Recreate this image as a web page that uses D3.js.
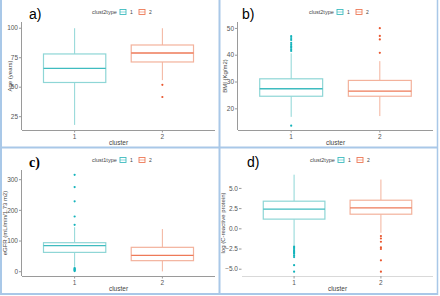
<!DOCTYPE html>
<html>
<head>
<meta charset="utf-8">
<script src="https://cdn.jsdelivr.net/npm/d3@7"></script>
<style>
  body { margin: 0; background: #fff; }
  text { font-family: "Liberation Sans", Arial, sans-serif; }
</style>
</head>
<body>
<div id="chart"></div>
<script>
// values: [lower whisker, q1, median, q3, upper whisker]
const clusters = ["1", "2"];

const ageStats = [[18, 54, 66, 78.2, 100], [56, 71.4, 79, 85.8, 100]];
const ageOutliers = [[], [52, 41.7]];
const ageTicks = [25, 50, 75, 100];

const bmiStats = [[17, 24.7, 27.5, 31.2, 40.7], [17.3, 24.7, 26.6, 30.6, 37.8]];
const bmiOutliers = [[41.6, 42.2, 42.8, 43.3, 43.9, 44.6, 45.7, 46.4, 47.1, 13.7], [50.1, 47.2, 45.9, 40.9]];
const bmiTicks = [20, 30, 40, 50];

const egfrStats = [[16, 63, 85, 94.6, 145], [1, 36, 53.5, 79.5, 139]];
const egfrOutliers = [[153, 180, 229.5, 276, 316, 2, 4, 6, 8, 10, 12], []];
const egfrTicks = [0, 100, 200, 300];

const crpStats = [[-2.1, 1.2, 2.43, 3.42, 6.7], [-0.5, 1.81, 2.6, 3.54, 6.1]];
const crpOutliers = [[-2.2, -2.35, -2.5, -2.65, -2.8, -2.95, -3.1, -3.3, -3.5, -4.5, -5.3], [-0.9, -1.2, -1.6, -2.3, -2.5, -3.9, -5.3]];
const crpTicks = [-5, -2.5, 0, 2.5, 5];

const width = 440, height = 296;
const boxCol = ["#8ed6d6", "#f3b29c"];
const medCol = ["#3fbcc0", "#ee7a58"];
const dotCol = ["#13b3bb", "#e9572f"];

const panels = [
  { tag: "a)", x0: 0, y0: 0, stats: ageStats, out: ageOutliers, ticks: ageTicks, fmt: d3.format("d"),
    domain: [13.7, 105.3], left: 22, right: 215, top: 22, bottom: 130, ylab: "Age (years)", ylx: 12,
    legend: "clust2type", lx: 92, tx: 29, serif: false, yaxis: true },
  { tag: "b)", x0: 220, y0: 0, stats: bmiStats, out: bmiOutliers, ticks: bmiTicks, fmt: d3.format("d"),
    domain: [12.1, 52.4], left: 18, right: 213, top: 22, bottom: 130, ylab: "BMI (Kg/m2)", ylx: 7,
    legend: "clust2type", lx: 89, tx: 22, serif: false, yaxis: true },
  { tag: "c)", x0: 0, y0: 148, stats: egfrStats, out: egfrOutliers, ticks: egfrTicks, fmt: d3.format("d"),
    domain: [-14, 331.6], left: 22, right: 215, top: 22, bottom: 128, ylab: "eGFR (mL/min/1.73 m2)", ylx: 7,
    legend: "clust1type", lx: 92, tx: 29, serif: true, yaxis: true },
  { tag: "d)", x0: 220, y0: 148, stats: crpStats, out: crpOutliers, ticks: crpTicks, fmt: d3.format(".1f"),
    domain: [-5.84, 7.28], left: 22, right: 213, top: 22, bottom: 128, ylab: "log (C-reactive protein)", ylx: 5,
    legend: "clust2type", lx: 90, tx: 27, serif: false, yaxis: false }
];

const svg = d3.select("#chart").append("svg")
  .attr("width", width)
  .attr("height", height);

svg.append("rect").attr("width", width).attr("height", height).attr("fill", "#fff");

panels.forEach(p => {
  const g = svg.append("g").attr("transform", `translate(${p.x0},${p.y0})`);

  const x = d3.scaleLinear().domain([0.4, 2.6]).range([p.left, p.right]);
  const y = d3.scaleLinear().domain(p.domain).range([p.bottom, p.top]);
  const bw = 0.71 * (x(2) - x(1));

  // x axis
  g.append("line")
    .attr("x1", p.left).attr("x2", p.right)
    .attr("y1", p.bottom + 0.5).attr("y2", p.bottom + 0.5)
    .attr("stroke", p.yaxis ? "#9a9a9a" : "#d9d9d9").attr("stroke-width", 1);
  clusters.forEach((c, i) => {
    g.append("line")
      .attr("x1", x(i + 1)).attr("x2", x(i + 1))
      .attr("y1", p.bottom).attr("y2", p.bottom + 2.5)
      .attr("stroke", "#9a9a9a");
    g.append("text")
      .attr("x", x(i + 1)).attr("y", p.bottom + 8.5)
      .attr("text-anchor", "middle").attr("font-size", 6.5).attr("fill", "#555")
      .text(c);
  });

  // y axis
  if (p.yaxis) {
    g.append("line")
      .attr("x1", p.left - 0.5).attr("x2", p.left - 0.5)
      .attr("y1", p.top).attr("y2", p.bottom)
      .attr("stroke", "#9a9a9a");
  }
  p.ticks.forEach(t => {
    g.append("line")
      .attr("x1", p.left - 3).attr("x2", p.left - 0.5)
      .attr("y1", y(t)).attr("y2", y(t))
      .attr("stroke", "#9a9a9a");
    g.append("text")
      .attr("x", p.left - 4).attr("y", y(t) + 2.2)
      .attr("text-anchor", "end").attr("font-size", 6.5).attr("fill", "#555")
      .text(p.fmt(t));
  });

  // boxes
  p.stats.forEach((s, i) => {
    const cx = x(i + 1);
    g.append("line")
      .attr("x1", cx).attr("x2", cx).attr("y1", y(s[0])).attr("y2", y(s[1]))
      .attr("stroke", boxCol[i]).attr("stroke-width", 1);
    g.append("line")
      .attr("x1", cx).attr("x2", cx).attr("y1", y(s[3])).attr("y2", y(s[4]))
      .attr("stroke", boxCol[i]).attr("stroke-width", 1);
    g.append("rect")
      .attr("x", cx - bw / 2).attr("y", y(s[3]))
      .attr("width", bw).attr("height", y(s[1]) - y(s[3]))
      .attr("fill", "#fff").attr("stroke", boxCol[i]).attr("stroke-width", 1.2);
    g.append("line")
      .attr("x1", cx - bw / 2).attr("x2", cx + bw / 2)
      .attr("y1", y(s[2])).attr("y2", y(s[2]))
      .attr("stroke", medCol[i]).attr("stroke-width", 1.3);
    g.selectAll(null)
      .data(p.out[i])
      .join("circle")
      .attr("cx", cx).attr("cy", d => y(d))
      .attr("r", 1.1).attr("fill", dotCol[i]);
  });

  // titles
  g.append("text")
    .attr("x", p.tx).attr("y", 19)
    .attr("font-size", 14)
    .attr("font-weight", p.serif ? "bold" : "normal")
    .style("font-family", p.serif ? "'Liberation Serif', serif" : "'Liberation Sans', Arial, sans-serif")
    .text(p.tag);
  g.append("text")
    .attr("transform", `translate(${p.ylx},${(p.top + p.bottom) / 2}) rotate(-90)`)
    .attr("text-anchor", "middle").attr("font-size", 6).attr("fill", "#444")
    .text(p.ylab);
  g.append("text")
    .attr("x", (p.left + p.right) / 2).attr("y", p.bottom + 15)
    .attr("text-anchor", "middle").attr("font-size", 6.5).attr("fill", "#444")
    .text("cluster");

  // legend
  const lg = g.append("g").attr("transform", `translate(${p.lx},12)`);
  lg.append("text").attr("x", 0).attr("y", 2).attr("font-size", 5.5).attr("fill", "#444").text(p.legend);
  clusters.forEach((c, i) => {
    const kx = 28 + i * 19;
    lg.append("rect").attr("x", kx).attr("y", -2.5).attr("width", 6).attr("height", 5)
      .attr("fill", "#fff").attr("stroke", medCol[i]).attr("stroke-width", 0.9);
    lg.append("line").attr("x1", kx).attr("x2", kx + 6).attr("y1", 0).attr("y2", 0)
      .attr("stroke", medCol[i]).attr("stroke-width", 0.6);
    lg.append("text").attr("x", kx + 10).attr("y", 2).attr("font-size", 5).attr("fill", "#444").text(c);
  });
});

// panel frame
const frame = svg.append("g").attr("stroke", "#a9c8e8").attr("fill", "none");
frame.append("line").attr("x1", 1).attr("x2", 1).attr("y1", 0).attr("y2", 295).attr("stroke-width", 2);
frame.append("line").attr("x1", 219.5).attr("x2", 219.5).attr("y1", 0).attr("y2", 295).attr("stroke-width", 2);
frame.append("line").attr("x1", 437.5).attr("x2", 437.5).attr("y1", 0).attr("y2", 295).attr("stroke-width", 1.5);
frame.append("line").attr("x1", 0).attr("x2", 438).attr("y1", 147.5).attr("y2", 147.5).attr("stroke-width", 2);
frame.append("line").attr("x1", 0).attr("x2", 438).attr("y1", 294).attr("y2", 294).attr("stroke-width", 2);
</script>
</body>
</html>
